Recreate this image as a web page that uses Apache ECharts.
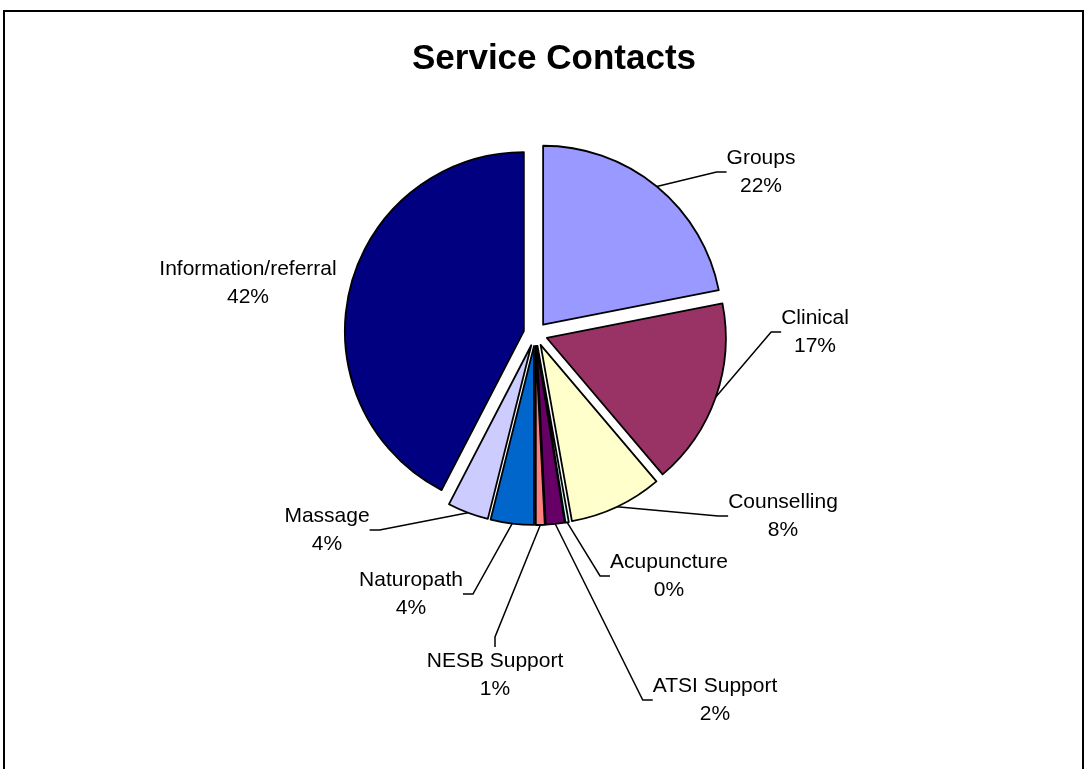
<!DOCTYPE html>
<html>
<head>
<meta charset="utf-8">
<title>Service Contacts</title>
<script src="https://cdn.jsdelivr.net/npm/echarts@6/dist/echarts.min.js"></script>
<style>
  html, body { margin: 0; padding: 0; background: #fff; }
  #chart { width: 1086px; height: 769px; }
</style>
</head>
<body>
<div id="chart"></div>
<script>
// Service categories, clockwise from twelve o'clock
const categories = [
  'Groups', 'Clinical', 'Counselling', 'Acupuncture', 'ATSI Support',
  'NESB Support', 'Naturopath', 'Massage', 'Information/referral'
];
// Share of all service contacts (per cent)
const shares = [21.9, 16.9, 8.4, 0.3, 1.7, 0.8, 3.9, 3.7, 42.4];

// Slice fills
const sliceColors = [
  '#9999FF', '#993366', '#FFFFCC', '#CCFFFF', '#660066',
  '#FF8080', '#0066CC', '#CCCCFF', '#000080'
];
// Centre of each two-line data label
const labelSpots = [
  [761, 172], [815, 332], [783, 516], [669, 576], [715, 700],
  [495, 675], [411, 594], [327, 530], [248, 283]
];
// Labels drawn without a leader line
const noLeader = ['Information/referral'];

const PIE_CENTER = [535.5, 334];
const PIE_RADIUS = 179;
const EXPLODE = 12;

const chart = echarts.init(document.getElementById('chart'), null, { renderer: 'canvas' });

const sliceBorder = { borderColor: '#000', borderWidth: 1.8 };

// Exploded slices: every slice is pulled out from the centre
const sliceData = categories.map((name, i) => ({
  name: name,
  value: shares[i],
  selected: true,
  itemStyle: Object.assign({ color: sliceColors[i] }, sliceBorder),
  select: { itemStyle: Object.assign({ color: sliceColors[i] }, sliceBorder) }
}));

// Same shares again, invisible, carrying the data labels and leader lines
const labelData = categories.map((name, i) => ({
  name: name,
  value: shares[i],
  labelLine: { show: noLeader.indexOf(name) < 0 }
}));

chart.setOption({
  backgroundColor: '#fff',
  animation: false,
  title: {
    text: 'Service Contacts',
    left: 549,
    top: 37,
    textAlign: 'center',
    textStyle: {
      fontFamily: 'Liberation Sans',
      fontWeight: 'bold',
      fontSize: 35,
      color: '#000'
    }
  },
  graphic: [{
    type: 'rect',
    silent: true,
    shape: { x: 4, y: 11, width: 1079, height: 800 },
    style: { fill: 'none', stroke: '#000', lineWidth: 2 }
  }],
  series: [{
    type: 'pie',
    name: 'slices',
    center: PIE_CENTER,
    radius: PIE_RADIUS,
    startAngle: 90,
    clockwise: true,
    selectedMode: 'multiple',
    selectedOffset: EXPLODE,
    emphasis: { disabled: true },
    label: { show: false },
    labelLine: { show: false },
    data: sliceData
  }, {
    type: 'pie',
    name: 'labels',
    silent: true,
    center: PIE_CENTER,
    radius: PIE_RADIUS + EXPLODE,
    startAngle: 90,
    clockwise: true,
    avoidLabelOverlap: false,
    emphasis: { disabled: true },
    itemStyle: { color: 'rgba(0,0,0,0)', borderWidth: 0 },
    label: {
      show: true,
      position: 'outside',
      color: '#000',
      fontFamily: 'Liberation Sans',
      fontSize: 21,
      lineHeight: 28,
      align: 'center',
      formatter: p => p.name + '\n' + Math.round(p.percent) + '%'
    },
    labelLine: {
      show: true,
      length: 20,
      length2: 10,
      lineStyle: { color: '#000', width: 1.5 }
    },
    labelLayout: p => ({
      x: labelSpots[p.dataIndex][0],
      y: labelSpots[p.dataIndex][1],
      align: 'center',
      verticalAlign: 'middle'
    }),
    data: labelData
  }]
});
</script>
</body>
</html>
